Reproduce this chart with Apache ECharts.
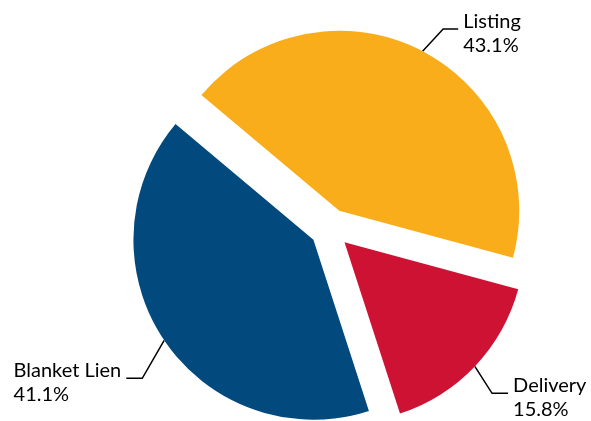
<!DOCTYPE html>
<html>
<head>
<meta charset="utf-8">
<style>
  html, body { margin: 0; padding: 0; background: #ffffff; }
  #chart { width: 591px; height: 421px; }
</style>
<script src="https://cdn.jsdelivr.net/npm/echarts@6/dist/echarts.min.js"></script>
</head>
<body>
<div id="chart"></div>
<script>
// Share of filings by type (percent)
const categories = ['Listing', 'Delivery', 'Blanket Lien'];
const shares = [43.1, 15.8, 41.1];

// Slice colours, in the same order as the categories
const sliceColors = ['#F9AD1A', '#CD1233', '#024A7E'];

// Leader line geometry per slice: radial reach, horizontal reach, and the
// short horizontal elbow drawn next to the text
const leaderLength = [25, 39, 68];
const leaderLength2 = [24, 5, -18.5];
const leaderElbow = [15, 16, 16];

const chart = echarts.init(document.getElementById('chart'), null, { renderer: 'canvas' });

const pieData = categories.map(function (name, i) {
  return {
    name: name,
    value: shares[i],
    selected: true,
    itemStyle: { color: sliceColors[i] },
    labelLine: { length: leaderLength[i], length2: leaderLength2[i] }
  };
});

const labelFont = { fontFamily: 'Lato', fontSize: 20, lineHeight: 24, color: '#000000' };

chart.setOption({
  animation: false,
  backgroundColor: '#ffffff',
  series: [{
    type: 'pie',
    center: [330, 228.5],
    radius: 180,
    startAngle: 140,
    clockwise: true,
    selectedMode: 'multiple',
    selectedOffset: 20,
    avoidLabelOverlap: false,
    emphasis: { disabled: true },
    select: { itemStyle: { borderWidth: 0 } },
    itemStyle: { borderWidth: 0 },
    label: Object.assign({
      show: true,
      position: 'outside',
      alignTo: 'none',
      bleedMargin: 0,
      overflow: 'none',
      distanceToLabelLine: 5,
      padding: [8, 0, 0, 0],
      // both lines of every label are left-aligned inside their block
      rich: { t: Object.assign({ align: 'left' }, labelFont) },
      formatter: function (p) {
        return '{t|' + p.name + '}\n{t|' + p.value.toFixed(1) + '%}';
      }
    }, labelFont),
    labelLine: {
      show: true,
      smooth: false,
      lineStyle: { color: '#000000', width: 1.5 }
    },
    labelLayout: function (params) {
      const pts = params.labelLinePoints;
      if (!pts || pts.length < 3) return {};
      const start = pts[0];
      const end = pts[2];
      const dir = end[0] < start[0] ? -1 : 1;
      const bend = [end[0] - dir * leaderElbow[params.dataIndex], end[1]];
      return { labelLinePoints: [start, bend, end] };
    },
    data: pieData
  }]
});
</script>
</body>
</html>
